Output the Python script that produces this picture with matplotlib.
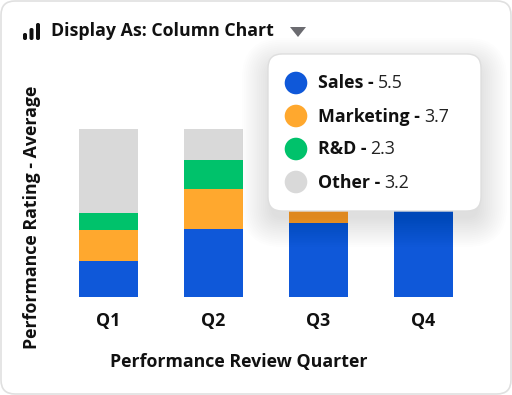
import matplotlib
matplotlib.use("Agg")
import matplotlib.pyplot as plt
from matplotlib.patches import FancyBboxPatch, Circle, Polygon

plt.rcParams['font.family'] = ['Open Sans', 'DejaVu Sans']

W, H = 512, 395
FS = 12.8

quarters = ["Q1", "Q2", "Q3", "Q4"]
sales = [3.15, 5.92, 6.5, 8.2]
marketing = [2.7, 3.5, 3.7, 2.6]
rnd = [1.5, 2.55, 2.3, 1.9]
other = [7.35, 2.73, 2.2, 2.0]

series_names = ["Sales", "Marketing", "R&D", "Other"]
series_colors = ["#0f58d9", "#ffa82e", "#00c26b", "#d9d9d9"]
tooltip_values = ["5.5", "3.7", "2.3", "3.2"]

fig = plt.figure(figsize=(W / 100, H / 100), dpi=100, facecolor="white")

# card and header live in a pixel-sized axes behind the chart
bg = fig.add_axes([0, 0, 1, 1], zorder=0)
bg.set_xlim(0, W)
bg.set_ylim(H, 0)
bg.axis("off")
bg.add_patch(FancyBboxPatch((1, 1), W - 2, H - 2, boxstyle="round,pad=0,rounding_size=14",
                            fc="white", ec="#e0e0e0", lw=1.2, mutation_aspect=1))
for x0, y_top in [(23, 33), (29.5, 28), (36, 23)]:
    bg.add_patch(FancyBboxPatch((x0, y_top), 4, 40 - y_top, boxstyle="round,pad=0,rounding_size=1.8",
                                fc="#111111", ec="none"))
bg.text(51, 31.5, "Display As: Column Chart", fontsize=FS, fontweight="bold",
        color="#111111", va="center", ha="left")
bg.add_patch(Polygon([(290, 27), (306, 27), (298, 37)], closed=True, fc="#6b6b70", ec="none"))

# chart
ax = fig.add_axes([56 / W, 1 - 297 / H, 420 / W, 168 / H], zorder=1)
ax.patch.set_alpha(0)
bottom = [0, 0, 0, 0]
for vals, c in zip([sales, marketing, rnd, other], series_colors):
    ax.bar(range(4), vals, width=0.562, bottom=bottom, color=c)
    bottom = [b + v for b, v in zip(bottom, vals)]
ax.set_xlim(-0.5, 3.5)
ax.set_ylim(0, 14.7)
ax.set_yticks([])
ax.set_xticks(range(4))
ax.set_xticklabels(quarters, fontsize=FS, fontweight="bold", color="#111111")
ax.tick_params(axis="x", length=0, pad=11)
for s in ax.spines.values():
    s.set_visible(False)
fig.text(238.5 / W, 1 - 361.5 / H, "Performance Review Quarter", fontsize=FS, fontweight="bold",
         color="#111111", ha="center", va="center")
fig.text(32 / W, 1 - 217 / H, "Performance Rating - Average", fontsize=FS, fontweight="bold",
         color="#111111", ha="center", va="center", rotation=90)

# tooltip on top, with a soft shadow
top = fig.add_axes([0, 0, 1, 1], zorder=2)
top.set_xlim(0, W)
top.set_ylim(H, 0)
top.axis("off")
top.patch.set_alpha(0)
for i in range(16):
    g = 26 - i * 1.9
    top.add_patch(FancyBboxPatch((268 - g, 54 + 10 - g), 213 + 2 * g, 157 + 2 * g,
                                 boxstyle="round,pad=0,rounding_size=%f" % (14 + g),
                                 fc="black", ec="none", alpha=0.0085))
top.add_patch(FancyBboxPatch((268, 54), 213, 157, boxstyle="round,pad=0,rounding_size=14",
                             fc="white", ec="#dedede", lw=1))
fig.canvas.draw()
renderer = fig.canvas.get_renderer()
for name, val, c, y in zip(series_names, tooltip_values, series_colors, [83, 116, 149, 182]):
    top.add_patch(Circle((296, y), 11.3, fc=c, ec="none"))
    t = top.text(318, y + 0.5, name + " -", fontsize=FS, fontweight="bold", color="#111111",
                 va="center", ha="left")
    bb = t.get_window_extent(renderer)
    top.text(318 + bb.width + 4, y + 0.5, val, fontsize=FS, color="#222222", va="center", ha="left")

fig.savefig("out.png", dpi=100)
